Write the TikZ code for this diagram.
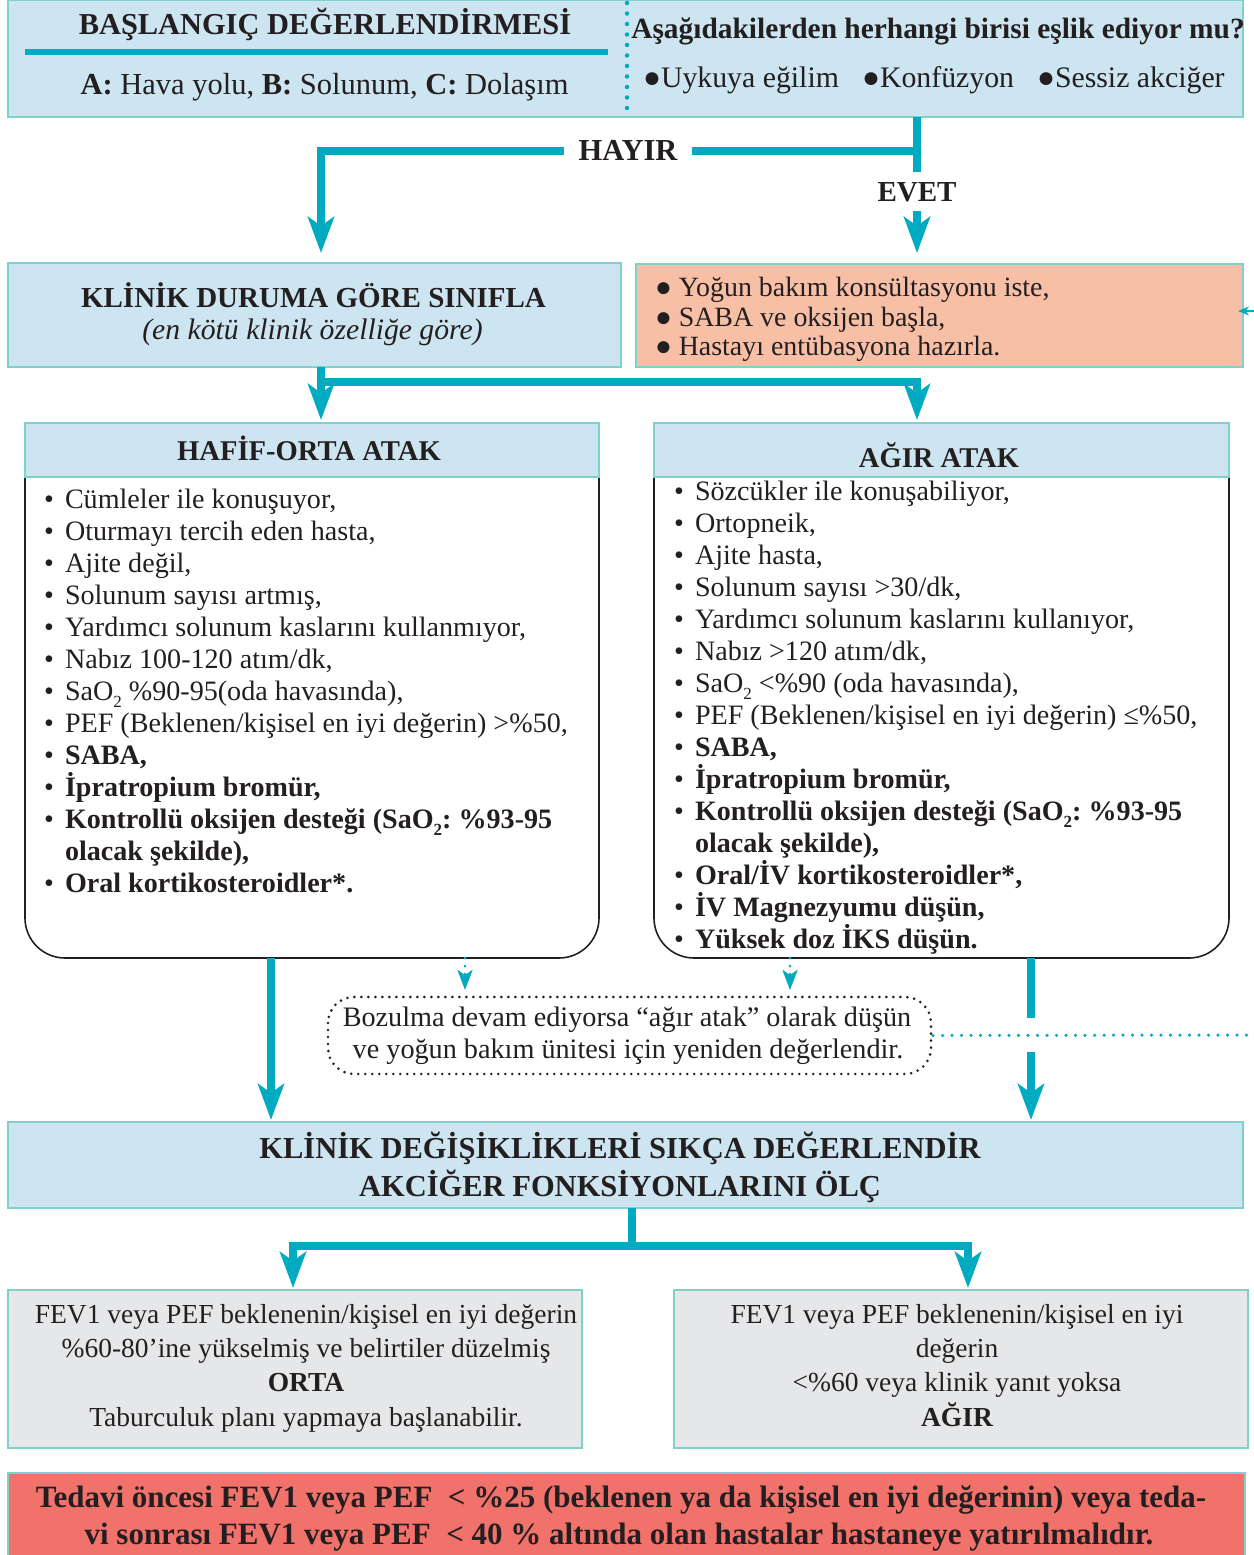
\documentclass[tikz,border=0pt]{standalone}
\usepackage{fontspec}
\setmainfont{Liberation Serif}
\usetikzlibrary{arrows.meta,calc}
\definecolor{lblue}{RGB}{205,229,240}
\definecolor{bcyan}{RGB}{128,208,204}
\definecolor{tealc}{RGB}{0,170,192}
\definecolor{orng}{RGB}{248,191,167}
\definecolor{greyb}{RGB}{230,231,233}
\definecolor{redb}{RGB}{241,113,107}
\definecolor{txt}{RGB}{35,31,32}
\newcommand\fsz[1]{\fontsize{#1}{32}\selectfont}
\newcommand\fbody{\fontsize{28.1}{32}\selectfont}
\newcommand\subtwo{\raisebox{-7pt}{\fontsize{17}{17}\selectfont 2}}
\newcommand\bitem[4]{\node[anchor=base west] (#1b) at ($(#2,#3)+(-21,0)$) {\fbody •}; \node[anchor=base west] (#1) at (#2,#3) {\fbody #4};}
\newcommand\citem[4]{\node[anchor=base west] (#1) at (#2,#3) {\fbody #4};}
\begin{document}
\begin{tikzpicture}[x=1pt,y=-1pt,
  every node/.style={inner sep=0pt, outer sep=0pt, text=txt},
  boxbase/.style={draw=bcyan, line width=2pt, anchor=north west},
  lbox/.style={boxbase, fill=lblue},
  obox/.style={boxbase, fill=orng},
  gbox/.style={boxbase, fill=greyb},
  rbox/.style={boxbase, fill=redb},
  conn/.style={draw=tealc, line width=7.5pt},
  bigarrow/.style={conn, -{Stealth[length=36pt,width=26pt,inset=9pt]}},
  dotline/.style={draw=tealc, line width=3.5pt, line cap=round, dash pattern=on 0pt off 9.5pt},
  smallarrow/.style={draw=tealc, line width=3pt, line cap=round, dash pattern=on 0pt off 8pt, -{Stealth[length=20pt,width=15pt,inset=5pt]}},
  blackdots/.style={draw=txt, line width=2.9pt, line cap=round, dash pattern=on 0pt off 7pt},
  ctext/.style={anchor=base},
]
\useasboundingbox (0,0) rectangle (1253,1555);

% ---------- top box
\node[lbox, minimum width=1235pt, minimum height=117pt] (top) at (8,0) {};
\node[ctext] (t1) at (325,35) {\fsz{30.4}\bfseries BAŞLANGIÇ DEĞERLENDİRMESİ};
\draw[draw=tealc, line width=6pt] (25,52) -- (608,52);
\node[ctext] (t2) at (324.5,95) {\fsz{30.5}\textbf{A:} Hava yolu, \textbf{B:} Solunum, \textbf{C:} Dolaşım};
\draw[dotline, line width=4.5pt, dash pattern=on 0pt off 10.5pt] (627,3) -- (627,116);
\node[ctext] (q1) at (938,39) {\fsz{29.4}\bfseries Aşağıdakilerden herhangi birisi eşlik ediyor mu?};
\node[anchor=base west] (q2) at (643,87) {\fsz{29.8}●Uykuya eğilim};
\node[anchor=base west] (q3) at (862,87) {\fsz{29.8}●Konfüzyon};
\node[anchor=base west] (q4) at (1037,87) {\fsz{29.8}●Sessiz akciğer};

% ---------- second row
\node[lbox, minimum width=613pt, minimum height=104pt] (kl) at (8,263) {};
\node[ctext] (kl1) at (313.5,307) {\fsz{29}\bfseries KLİNİK DURUMA GÖRE SINIFLA};
\node[ctext] (kl2) at (312.5,339) {\fsz{29.7}\itshape (en kötü klinik özelliğe göre)};
\node[obox, minimum width=607pt, minimum height=103pt] (or) at (636,264) {};
\node[anchor=base west] (o1) at (655,296) {\fsz{27.9}● Yoğun bakım konsültasyonu iste,};
\node[anchor=base west] (o2) at (655,326) {\fsz{27.9}● SABA ve oksijen başla,};
\node[anchor=base west] (o3) at (655,355) {\fsz{27.9}● Hastayı entübasyona hazırla.};

% ---------- labels on the first connectors
\node[ctext, inner xsep=15pt] (hayir) at (628,160) {\fsz{30.5}\bfseries HAYIR};
\node[ctext, inner ysep=10pt] (evet) at (917,201) {\fsz{29}\bfseries EVET};
\coordinate (jn) at (917,151);
\draw[conn] (top.south -| jn) -- (evet.north);
\draw[conn] (jn) -- (hayir.east |- jn);
\draw[bigarrow, shorten >=10pt] (hayir.west |- jn) -| ([xshift=6.5pt]kl.north);
\draw[bigarrow, shorten >=11pt] (evet.south) -- (evet.south |- or.north);

% ---------- attack boxes
\node[minimum width=574pt, minimum height=481pt, anchor=north west] (lbody) at (25,477) {};
\node[minimum width=575pt, minimum height=481pt, anchor=north west] (rbody) at (654,477) {};
\draw[draw=txt, line width=1.6pt, rounded corners=40pt] (lbody.north west) -- (lbody.south west) -- (lbody.south east) -- (lbody.north east);
\draw[draw=txt, line width=1.6pt, rounded corners=40pt] (rbody.north west) -- (rbody.south west) -- (rbody.south east) -- (rbody.north east);
\node[lbox, minimum width=574pt, minimum height=54pt] (hh) at (25,423) {};
\node[lbox, minimum width=575pt, minimum height=54pt] (ah) at (654,423) {};
\node[ctext] (hh1) at (309,460) {\fsz{28.6}\bfseries HAFİF-ORTA ATAK};
\node[ctext] (ah1) at (939,467) {\fsz{28.6}\bfseries AĞIR ATAK};

\coordinate (j2) at (321,382);
\draw[bigarrow, shorten >=3pt] ([xshift=6.5pt]kl.south) -- ([xshift=6.5pt]kl.south |- hh.north);
\draw[bigarrow, shorten >=3pt] (j2) -| (evet |- ah.north);

% left list
\bitem{a1}{65}{508}{Cümleler ile konuşuyor,}
\bitem{a2}{65}{540}{Oturmayı tercih eden hasta,}
\bitem{a3}{65}{572}{Ajite değil,}
\bitem{a4}{65}{604}{Solunum sayısı artmış,}
\bitem{a5}{65}{636}{Yardımcı solunum kaslarını kullanmıyor,}
\bitem{a6}{65}{668}{Nabız 100-120 atım/dk,}
\bitem{a7}{65}{700}{SaO\subtwo\ \%90-95(oda havasında),}
\bitem{a8}{65}{732}{PEF (Beklenen/kişisel en iyi değerin) >\%50,}
\bitem{a9}{65}{764}{\bfseries SABA,}
\bitem{a10}{65}{796}{\bfseries İpratropium bromür,}
\bitem{a11}{65}{828}{\bfseries Kontrollü oksijen desteği (SaO\subtwo:~\%93-95}
\citem{a12}{65}{860}{\bfseries olacak şekilde),}
\bitem{a13}{65}{892}{\bfseries Oral kortikosteroidler*.}

% right list
\bitem{b1}{695}{500}{Sözcükler ile konuşabiliyor,}
\bitem{b2}{695}{532}{Ortopneik,}
\bitem{b3}{695}{564}{Ajite hasta,}
\bitem{b4}{695}{596}{Solunum sayısı >30/dk,}
\bitem{b5}{695}{628}{Yardımcı solunum kaslarını kullanıyor,}
\bitem{b6}{695}{660}{Nabız >120 atım/dk,}
\bitem{b7}{695}{692}{SaO\subtwo\ <\%90 (oda havasında),}
\bitem{b8}{695}{724}{PEF (Beklenen/kişisel en iyi değerin) ≤\%50,}
\bitem{b9}{695}{756}{\bfseries SABA,}
\bitem{b10}{695}{788}{\bfseries İpratropium bromür,}
\bitem{b11}{695}{820}{\bfseries Kontrollü oksijen desteği (SaO\subtwo:~\%93-95}
\citem{b12}{695}{852}{\bfseries olacak şekilde),}
\bitem{b13}{695}{884}{\bfseries Oral/İV kortikosteroidler*,}
\bitem{b14}{695}{916}{\bfseries İV Magnezyumu düşün,}
\bitem{b15}{695}{948}{\bfseries Yüksek doz İKS düşün.}

% ---------- bozulma box
\node[anchor=north west, minimum width=603pt, minimum height=77pt] (boz) at (328,997) {};
\draw[blackdots, rounded corners=26pt] (boz.north west) rectangle (boz.south east);
\node[ctext] (bz1) at (627,1026) {\fsz{28.2}Bozulma devam ediyorsa “ağır atak” olarak düşün};
\node[ctext] (bz2) at (628,1058) {\fsz{28.2}ve yoğun bakım ünitesi için yeniden değerlendir.};

% ---------- assess box
\node[lbox, minimum width=1235pt, minimum height=86pt] (kd) at (8,1122) {};
\node[ctext] (kd1) at (620,1158) {\fsz{30.5}\bfseries KLİNİK DEĞİŞİKLİKLERİ SIKÇA DEĞERLENDİR};
\node[ctext] (kd2) at (620,1196) {\fsz{30.5}\bfseries AKCİĞER FONKSİYONLARINI ÖLÇ};

% connectors between attack boxes and assess box
\coordinate (lout) at ([xshift=246pt]lbody.south west);
\coordinate (rout) at ([xshift=377pt]rbody.south west);
\coordinate (rg1) at (1031,1018);
\coordinate (rg2) at (1031,1052);
\draw[bigarrow, shorten >=2pt] (lout) -- (lout |- kd.north);
\draw[conn] (rout) -- (rg1);
\draw[bigarrow, shorten >=2pt] (rg2) -- (rg2 |- kd.north);
\coordinate (ldot) at ([xshift=440pt]lbody.south west);
\coordinate (rdot) at ([xshift=136pt]rbody.south west);
\draw[smallarrow, shorten >=7pt] (ldot) -- (ldot |- boz.north);
\draw[smallarrow, shorten >=7pt] (rdot) -- (rdot |- boz.north);
\coordinate (edge) at (1258,1035);
\draw[dotline] ([xshift=2pt]boz.east) -- (edge);
\coordinate (edge2) at (1266,311);
\draw[draw=tealc, line width=2.5pt, -{Stealth[length=11pt,width=9pt]}, shorten >=-5pt] (edge2) -- (or.east |- edge2);

% ---------- result boxes
\node[gbox, minimum width=574pt, minimum height=158pt] (gl) at (8,1290) {};
\node[gbox, minimum width=574pt, minimum height=158pt] (gr) at (674,1290) {};
\coordinate (j3) at (632,1246);
\draw[conn] (kd.south -| j3) -- (j3);
\draw[bigarrow, shorten >=2pt] (j3) -| ([xshift=-2pt]gl.north);
\draw[bigarrow, shorten >=2pt] (j3) -| ([xshift=7pt]gr.north);
\node[ctext] (g1) at (306,1323) {\fsz{27.5}FEV1 veya PEF beklenenin/kişisel en iyi değerin};
\node[ctext] (g2) at (306,1357) {\fsz{27.5}\%60-80’ine yükselmiş ve belirtiler düzelmiş};
\node[ctext] (g3) at (306,1391) {\fsz{27.5}\bfseries ORTA};
\node[ctext] (g4) at (306,1426) {\fsz{27.5}Taburculuk planı yapmaya başlanabilir.};
\node[ctext] (h1) at (957,1323) {\fsz{27.5}FEV1 veya PEF beklenenin/kişisel en iyi};
\node[ctext] (h2) at (957,1357) {\fsz{27.5}değerin};
\node[ctext] (h3) at (957,1391) {\fsz{27.5}<\%60 veya klinik yanıt yoksa};
\node[ctext] (h4) at (957,1426) {\fsz{27.5}\bfseries AĞIR};

% ---------- red box
\node[rbox, minimum width=1237pt, minimum height=110pt] (rd) at (8,1473) {};
\node[ctext] (r1) at (621,1507) {\fsz{31}\bfseries Tedavi öncesi FEV1 veya PEF ~< \%25 (beklenen ya da kişisel en iyi değerinin) veya teda-};
\node[ctext] (r2) at (619,1544) {\fsz{31}\bfseries vi sonrası FEV1 veya PEF ~< 40 \% altında olan hastalar hastaneye yatırılmalıdır.};
\end{tikzpicture}
\end{document}
